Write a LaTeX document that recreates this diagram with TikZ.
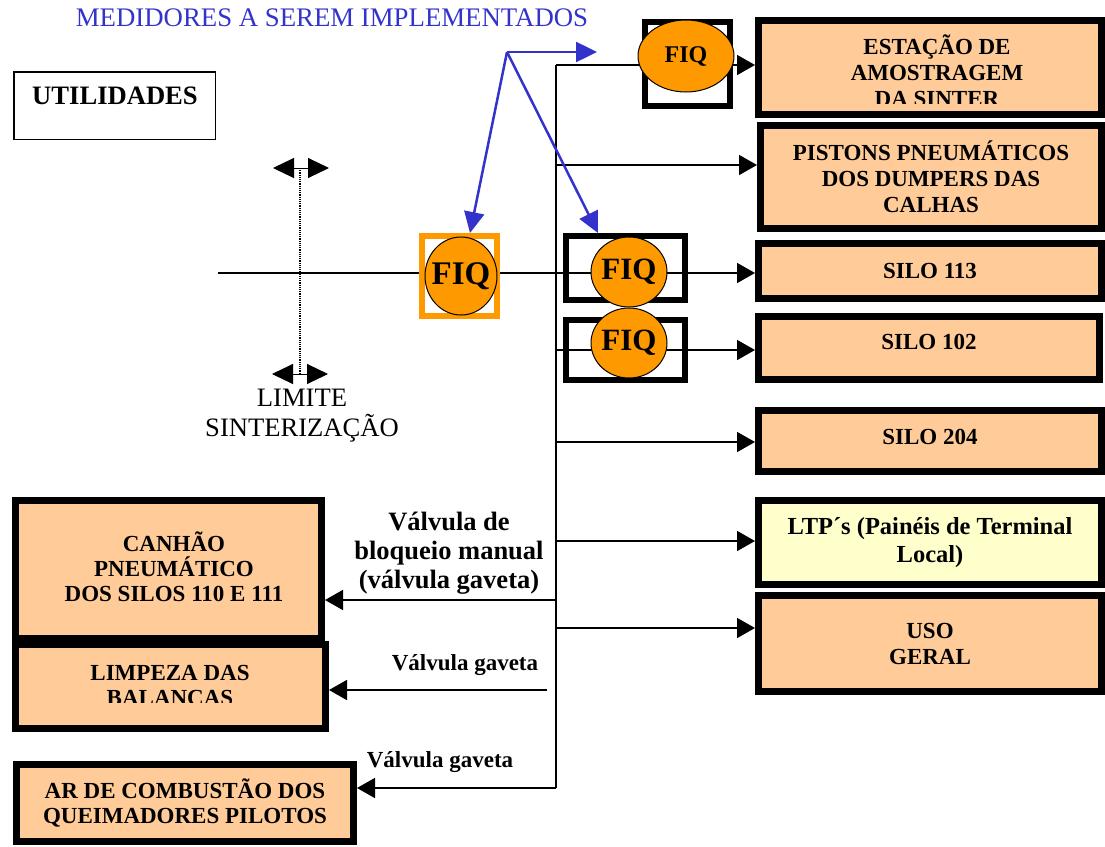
\documentclass[tikz,border=0pt]{standalone}
\usepackage{fontspec}
\setmainfont{Liberation Serif}
\usetikzlibrary{arrows.meta,backgrounds,shapes.geometric}
\definecolor{fiqorange}{HTML}{FF9900}
\definecolor{boxfill}{HTML}{FFCC99}
\definecolor{ltpfill}{HTML}{FFFFCC}
\definecolor{mblue}{HTML}{3333CC}
\begin{document}
\begin{tikzpicture}[x=1pt,y=-1pt,
  rbox/.style={draw=black, line width=7pt, fill=boxfill, inner sep=0pt, align=center,
    font=\fontsize{23}{26}\selectfont\bfseries},
  lbox/.style={rbox, font=\fontsize{23}{25}\selectfont\bfseries},
  fiqframe/.style={draw=black, line width=6pt, inner sep=0pt},
  fiqball/.style={ellipse, draw=black, line width=1pt, fill=fiqorange, inner sep=-8pt,
    font=\fontsize{31}{31}\selectfont\bfseries},
  conn/.style={line width=1.6pt, draw=black},
  arr/.style={conn, -{Triangle[length=18pt,width=20pt]}},
  blarr/.style={draw=mblue, line width=2.5pt, -{Triangle[length=21pt,width=20pt]}},
  lbl/.style={font=\fontsize{23}{25}\selectfont\bfseries, align=center},
  limarr/.style={line width=1pt, {Triangle[length=21pt,width=20pt]}-{Triangle[length=21pt,width=20pt]}},
]
\useasboundingbox (0,0) rectangle (1105,846);

% title and labels
\node[text=mblue, font=\fontsize{26.8}{30}\selectfont] (title) at (332,18) {MEDIDORES A SEREM IMPLEMENTADOS};
\node[draw=black, line width=1.5pt, minimum width=201.5pt, minimum height=67.5pt, inner sep=0pt] (util) at (114.5,105.5) {};
\node[font=\fontsize{26.6}{30}\selectfont\bfseries] (utiltxt) at (115,96) {UTILIDADES};
\node[font=\fontsize{26.6}{30}\selectfont, align=center] (limite) at (302,416) {LIMITE\\SINTERIZAÇÃO};

% right boxes
\node[rbox, minimum width=343pt, minimum height=94pt] (estacao) at (930,67.5) {};
\begin{scope}
  \clip (758,21) rectangle (1102,103);
  \node[font=\fontsize{23}{26}\selectfont\bfseries, align=center] (estacaotxt) at (937,71) {ESTAÇÃO DE\\AMOSTRAGEM\\DA SINTER};
\end{scope}
\node[rbox, minimum width=341pt, minimum height=103pt] (pistons) at (931,177) {PISTONS PNEUMÁTICOS\\DOS DUMPERS DAS\\CALHAS};
\node[rbox, minimum width=343pt, minimum height=55pt] (silo113) at (930,271) {SILO 113};
\node[rbox, minimum width=341pt, minimum height=63pt, text depth=12pt] (silo102) at (929,348) {SILO 102};
\node[rbox, minimum width=343pt, minimum height=61pt, text depth=9pt] (silo204) at (930,441) {SILO 204};
\node[rbox, fill=ltpfill, minimum width=343pt, minimum height=84pt, font=\fontsize{24.5}{28}\selectfont\bfseries] (ltp) at (930,542.5) {LTP´s (Painéis de Terminal\\Local)};
\node[rbox, minimum width=343pt, minimum height=96pt] (uso) at (930,643.5) {USO\\GERAL};

% left boxes
\node[lbox, minimum width=306pt, minimum height=138pt] (canhao) at (168.5,569.5) {};
\node[font=\fontsize{23}{25}\selectfont\bfseries, align=center] (canhaotxt) at (174,567) {CANHÃO\\PNEUMÁTICO\\DOS SILOS 110 E 111};
\node[lbox, minimum width=310pt, minimum height=84pt] (limpeza) at (170.5,686.5) {};
\begin{scope}
  \clip (16,645) rectangle (325,702);
  \node[font=\fontsize{23}{25}\selectfont\bfseries, align=center] (limpezatxt) at (170,688) {LIMPEZA DAS\\BALANÇAS};
\end{scope}
\node[lbox, minimum width=337pt, minimum height=77pt] (ar) at (185,803) {AR DE COMBUSTÃO DOS\\QUEIMADORES PILOTOS};

% FIQ instruments
\node[draw=fiqorange, line width=6pt, inner sep=0pt, minimum width=75pt, minimum height=80pt] (fiqAbox) at (459.5,276) {};
\node[fiqball, font=\fontsize{33}{33}\selectfont\bfseries, minimum width=72pt, minimum height=78pt] (fiqA) at (461,276) {FIQ};
\node[fiqframe, minimum width=85pt, minimum height=84pt] (fiqTbox) at (687.5,64) {};
\node[fiqball, font=\fontsize{24}{24}\selectfont\bfseries, minimum width=96pt, minimum height=72pt] (fiqT) at (686,56) {FIQ};
\node[fiqframe, minimum width=119pt, minimum height=64pt] (fiqBbox) at (625.5,268) {};
\node[fiqball, minimum width=76pt, minimum height=70pt] (fiqB) at (629,272) {FIQ};
\node[fiqframe, minimum width=119pt, minimum height=60pt] (fiqCbox) at (625.5,350) {};
\node[fiqball, minimum width=76pt, minimum height=70pt] (fiqC) at (629,343) {FIQ};

% valve labels
\node[font=\fontsize{26.5}{29}\selectfont\bfseries, align=center] (vman) at (449,553) {Válvula de\\bloqueio manual\\(válvula gaveta)};
\node[lbl] (vg1) at (465,665) {Válvula gaveta};
\node[lbl] (vg2) at (440,762) {Válvula gaveta};

% coordinates
\coordinate (bTop) at (556,65);
\coordinate (bBot) at (556,788);
\coordinate (bP) at (556,165);
\coordinate (bC) at (556,350);
\coordinate (b204) at (556,442);
\coordinate (bLtp) at (556,541);
\coordinate (bUso) at (556,628);
\coordinate (bCan) at (556,600);
\coordinate (vL) at (547,690);
\coordinate (mainStart) at (218,273);
\coordinate (limTop) at (300,168);
\coordinate (limBot) at (300,374);
\coordinate (limTopL) at (273,168);
\coordinate (limTopR) at (329,168);
\coordinate (limBotL) at (272,374);
\coordinate (limBotR) at (328,374);
\coordinate (bsrc) at (507,52);
\coordinate (btgt) at (597,52);

\begin{pgfonlayer}{background}
  \draw[conn] (bTop) -- (bBot);
  \draw[arr] (bTop) -- (bTop -| estacao.west);
  \draw[arr] (bP) -- (bP -| pistons.west);
  \draw[arr] (mainStart) -- (mainStart -| silo113.west);
  \draw[arr] (bC) -- (bC -| silo102.west);
  \draw[arr] (b204) -- (b204 -| silo204.west);
  \draw[arr] (bLtp) -- (bLtp -| ltp.west);
  \draw[arr] (bUso) -- (bUso -| uso.west);
  \draw[arr] (bCan) -- (bCan -| canhao.east);
  \draw[arr] (vL) -- (vL -| limpeza.east);
  \draw[arr] (bBot) -- (bBot -| ar.east);
\end{pgfonlayer}

% limit marks
\draw[densely dotted, line width=1.2pt] (limTop) -- (limBot);
\draw[limarr] (limTopL) -- (limTopR);
\draw[limarr] (limBotL) -- (limBotR);

% blue pointers
\draw[blarr] (bsrc) -- (btgt);
\draw[blarr] (bsrc) -- ([xshift=10.5pt]fiqAbox.north);
\draw[blarr] (bsrc) -- ([xshift=-27.5pt]fiqBbox.north);
\end{tikzpicture}
\end{document}
